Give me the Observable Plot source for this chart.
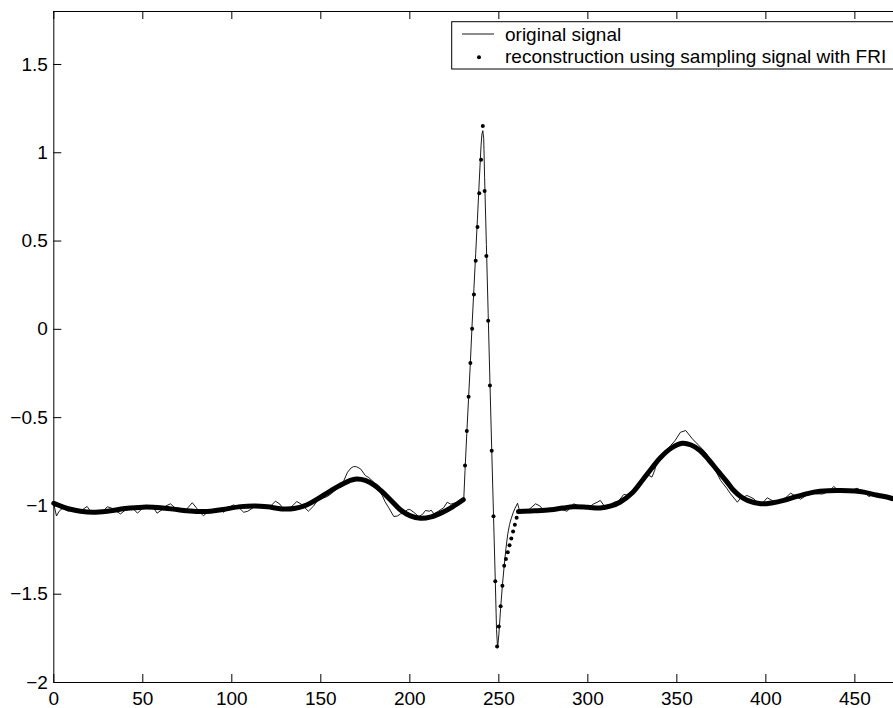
<!DOCTYPE html>
<html><head><meta charset="utf-8">
<script src="https://cdn.jsdelivr.net/npm/d3@7"></script>
<script src="https://cdn.jsdelivr.net/npm/@observablehq/plot@0.6"></script>
<style>body{margin:0;background:#fff}</style>
</head><body><div id="chart"></div>
<script>
// ---- data ----
const xTicks = [0, 50, 100, 150, 200, 250, 300, 350, 400, 450];
const yTicks = [-2, -1.5, -1, -0.5, 0, 0.5, 1, 1.5];
const legendLabels = ["original signal", "reconstruction using sampling signal with FRI"];

// original (noisy) signal
const originalX = [0,1.5,3,5,8,11,14,17,18.7,21,24,27,30,32,35,37.5,40,43,45,47,50,53,56,58,61,63,65.5,68,71,74,77.8,80,82,84,87,90,93,95.5,98,101,104,106.7,109,112,115,118,121,124.5,127,129,131,133,136.5,139,143,146,148,151.7,153.6,156,158,161,163,165,167,168.5,170,172.3,175,177,179.8,182,184.5,186,188.2,191,193,194.8,197,198.5,200,202.2,205,207,208.8,211,212,213.5,216,219,221,223,224.7,227,229,230.3,
  231,232,233,234,235,236,237,238,239,240,240.5,241,241.5,242,243,244,245,246,247,248,248.7,249.3,250,251,252,253,254,255,256,257,258,259,260,260.5,261.3,262,
  264,267,270.6,273,275.3,279,282,285,288.4,290,292,295,298,301,303,305.3,307,310,312,314.6,317,320.2,323,326,330,333,336,337.5,339,343,346.5,349,352,355,358.7,362.4,366,369,370.8,374.6,378,380.2,384,385.8,389.5,393.3,396,398,400.8,404.5,408,411,413.9,416,419.5,423.3,427,431.7,435,438.2,441,443.8,447,451.3,455,457.9,460,462.6,466,470,474,478];
const originalY = [-0.99,-1.057,-1.03,-1.012,-1.03,-1.022,-1.035,-1.015,-1.003,-1.035,-1.03,-1.038,-1.005,-1.01,-1.03,-1.045,-1.025,-1.01,-1.02,-1.041,-1.012,-1.003,-1.01,-1.041,-1.02,-1.0,-0.988,-1.01,-1.03,-1.025,-0.982,-1.01,-1.035,-1.056,-1.03,-1.035,-1.02,-1.036,-1.01,-0.994,-1.01,-1.036,-1.03,-1.01,-0.995,-1.005,-1.01,-0.973,-0.99,-1.017,-1.022,-1.01,-0.975,-0.99,-1.03,-1.0,-0.97,-0.954,-0.947,-0.93,-0.912,-0.89,-0.855,-0.809,-0.785,-0.777,-0.778,-0.79,-0.828,-0.84,-0.866,-0.9,-0.941,-0.975,-1.011,-1.06,-1.057,-1.045,-1.04,-1.022,-1.02,-1.036,-1.06,-1.049,-1.026,-1.03,-1.024,-1.045,-1.03,-1.01,-0.979,-0.99,-0.985,-0.98,-0.972,-0.96,
  -0.8,-0.59,-0.39,-0.19,0.03,0.23,0.43,0.63,0.84,1.04,1.105,1.125,1.08,0.86,0.48,0.09,-0.3,-0.68,-1.05,-1.42,-1.7,-1.805,-1.73,-1.58,-1.45,-1.34,-1.24,-1.16,-1.105,-1.07,-1.04,-1.015,-0.995,-0.985,-1.015,-1.03,
  -1.025,-1.02,-0.988,-1.0,-1.025,-1.02,-1.015,-1.02,-1.03,-1.01,-0.988,-1.0,-1.01,-1.005,-0.99,-0.979,-0.969,-1.011,-1.005,-0.98,-0.975,-0.935,-0.94,-0.92,-0.86,-0.82,-0.837,-0.8,-0.743,-0.7,-0.658,-0.63,-0.583,-0.573,-0.62,-0.658,-0.696,-0.74,-0.781,-0.856,-0.9,-0.932,-0.979,-0.955,-0.941,-0.96,-0.992,-0.985,-0.954,-0.975,-0.97,-0.955,-0.928,-0.94,-0.962,-0.937,-0.93,-0.933,-0.92,-0.89,-0.915,-0.915,-0.915,-0.9,-0.92,-0.947,-0.935,-0.929,-0.945,-0.962,-0.97,-0.985];

// reconstruction, smooth parts (dense samples that merge into a thick line)
const reconLeftX = [0,5,10,15,22,30,40,50,60,70,80,88,95,105,113,120,128,135,142,148,155,160,165,170,175,180,185,190,195,200,206,212,218,224,230];
const reconLeftY = [-0.985,-1.005,-1.02,-1.03,-1.036,-1.03,-1.015,-1.007,-1.01,-1.022,-1.031,-1.03,-1.02,-1.004,-1.0,-1.005,-1.017,-1.015,-0.995,-0.962,-0.917,-0.888,-0.862,-0.848,-0.856,-0.882,-0.925,-0.975,-1.025,-1.055,-1.07,-1.062,-1.038,-1.005,-0.965];
const reconRightX = [261,270,279,286,292,300,307,313,318,325,331,336,341,347,353,358,363,368,373,378,382,386,390,397,404,410,418,427,435,442,450,455,462,470,476,482];
const reconRightY = [-1.032,-1.028,-1.022,-1.012,-1.005,-1.008,-1.012,-1.0,-0.979,-0.925,-0.85,-0.785,-0.724,-0.672,-0.645,-0.655,-0.686,-0.74,-0.802,-0.862,-0.913,-0.948,-0.97,-0.988,-0.982,-0.969,-0.945,-0.922,-0.914,-0.913,-0.916,-0.922,-0.938,-0.955,-0.975,-0.995];

// reconstruction samples in the QRS complex (separate dots)
const reconQrsX = [231,232,233,234,235,236,237,238,239,240,241,242,243,244,245,246,247,248,249,250,251,252,253,254,255,256,257,258,259,260];
const reconQrsY = [-0.771,-0.575,-0.382,-0.19,0.003,0.197,0.388,0.58,0.771,0.961,1.152,0.784,0.416,0.048,-0.318,-0.688,-1.058,-1.426,-1.796,-1.683,-1.568,-1.452,-1.339,-1.3,-1.262,-1.223,-1.185,-1.145,-1.107,-1.067];

// ---- build tables ----
const zip = (xs, ys) => xs.map((x, i) => ({x, y: ys[i]}));
const original = zip(originalX, originalY);
const reconLeft = zip(reconLeftX, reconLeftY);
const reconRight = zip(reconRightX, reconRightY);
const reconQrs = zip(reconQrsX, reconQrsY);

const W = 893, H = 708, mL = 53.3, mR = 0, mT = 11, mB = 26;
const frameW = W - mL - mR, frameH = H - mT - mB;
const font = "'Liberation Sans', Arial, Helvetica, sans-serif";
const fmt = d => String(d).replace("-", "\u2212");

const chart = Plot.plot({
  width: W, height: H,
  marginLeft: mL, marginRight: mR, marginTop: mT, marginBottom: mB,
  style: {fontSize: "19px", fontFamily: font, color: "black", background: "white"},
  x: {domain: [0, 471.7], ticks: xTicks, tickFormat: fmt, tickSize: 0, tickPadding: 9, label: null},
  y: {domain: [-2, 1.8], ticks: yTicks, tickFormat: fmt, tickSize: 0, tickPadding: 6, label: null},
  marks: [
    Plot.line(original, {x: "x", y: "y", stroke: "black", strokeWidth: 0.9}),
    Plot.line(reconLeft, {x: "x", y: "y", stroke: "black", strokeWidth: 5, curve: "catmull-rom", strokeLinecap: "round"}),
    Plot.line(reconRight, {x: "x", y: "y", stroke: "black", strokeWidth: 5, curve: "catmull-rom", strokeLinecap: "round"}),
    Plot.dot(reconQrs, {x: "x", y: "y", r: 2, fill: "black", stroke: "none"}),
    // frame (left, top, bottom)
    Plot.ruleX([0], {stroke: "black", strokeWidth: 1}),
    Plot.ruleY([-2], {stroke: "black", strokeWidth: 1}),
    Plot.ruleY([1.8], {stroke: "black", strokeWidth: 1}),
    // inward ticks
    Plot.tickX(xTicks, {x: d => d, stroke: "black", insetTop: frameH - 8}),
    Plot.tickX(xTicks, {x: d => d, stroke: "black", insetBottom: frameH - 8}),
    Plot.tickY(yTicks, {y: d => d, stroke: "black", insetRight: frameW - 8})
  ]
});
document.getElementById("chart").appendChild(chart);

// ---- legend (inside the plot, top right) ----
const svg = d3.select(chart);
const lg = svg.append("g").attr("font-family", font).attr("font-size", 19)
  .attr("fill", "black").attr("text-anchor", "start");
lg.append("rect").attr("x", 451.7).attr("y", 21.7).attr("width", 480).attr("height", 47.3)
  .attr("fill", "white").attr("stroke", "black").attr("stroke-width", 1);
lg.append("line").attr("x1", 462).attr("x2", 494).attr("y1", 34).attr("y2", 34)
  .attr("stroke", "black").attr("stroke-width", 0.9);
lg.append("text").attr("x", 505).attr("y", 40.7).attr("text-anchor", "start").text(legendLabels[0]);
lg.append("circle").attr("cx", 479).attr("cy", 57.3).attr("r", 2).attr("fill", "black");
lg.append("text").attr("x", 505).attr("y", 63.3).attr("text-anchor", "start").text(legendLabels[1]);
</script>
</body></html>
